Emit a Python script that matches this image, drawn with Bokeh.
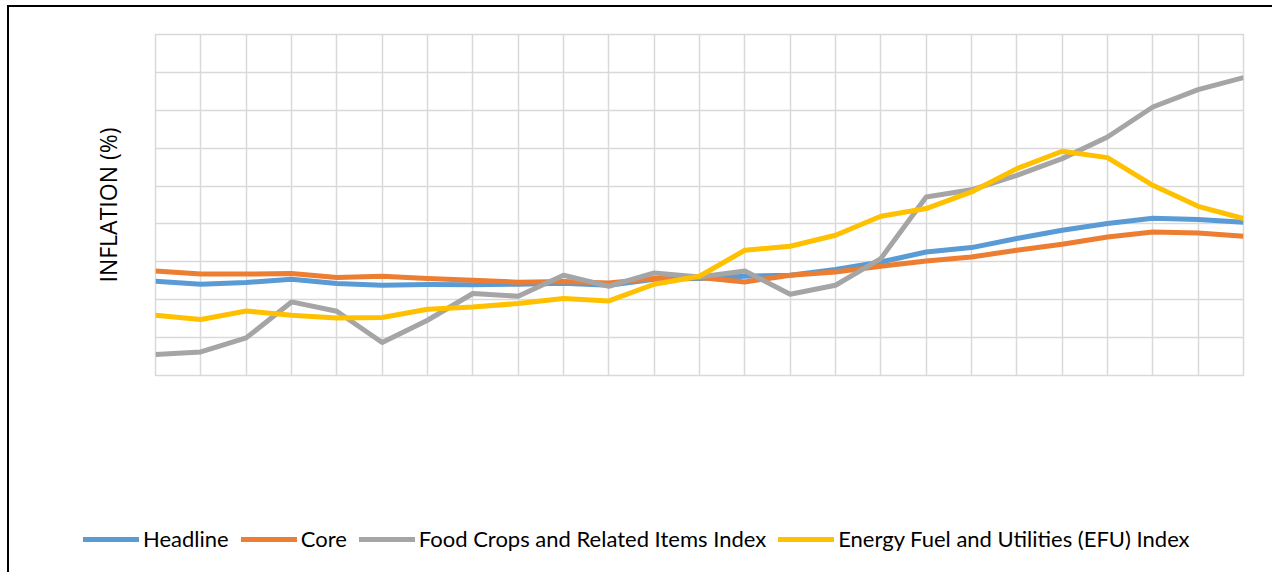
from bokeh.plotting import figure
from bokeh.models import Range1d, FixedTicker, Legend, LegendItem, ColumnDataSource
from bokeh.embed import file_html
from bokeh.resources import INLINE

# ---- data (25 periods) ----
periods = list(range(25))
headline = [12.44, 12.04, 12.27, 12.70, 12.13, 11.91, 12.00, 11.98, 12.05, 12.17, 11.90, 12.70,
            12.80, 13.10, 13.23, 13.98, 14.98, 16.30, 16.88, 18.07, 19.16, 20.05, 20.75, 20.58, 20.22]
core = [13.80, 13.40, 13.40, 13.45, 12.93, 13.10, 12.80, 12.57, 12.31, 12.40, 12.21, 12.79,
        12.93, 12.35, 13.23, 13.66, 14.42, 15.12, 15.64, 16.53, 17.32, 18.28, 18.94, 18.81, 18.37]
food = [2.77, 3.11, 4.96, 9.71, 8.48, 4.35, 7.29, 10.82, 10.46, 13.23, 11.78, 13.53,
        13.01, 13.80, 10.72, 11.91, 15.43, 23.56, 24.50, 26.42, 28.62, 31.47, 35.43, 37.72, 39.31]
efu = [7.95, 7.39, 8.52, 7.95, 7.60, 7.65, 8.74, 9.05, 9.50, 10.16, 9.84, 12.04,
       13.10, 16.53, 17.05, 18.51, 21.01, 22.03, 24.22, 27.30, 29.59, 28.75, 25.10, 22.33, 20.71]
series_names = ["Headline", "Core", "Food Crops and Related Items Index",
                "Energy Fuel and Utilities (EFU) Index"]
series_colors = ["#5B9BD5", "#ED7D31", "#A5A5A5", "#FFC000"]
y_ticks = [0, 5, 10, 15, 20, 25, 30, 35, 40, 45]

src = ColumnDataSource(dict(x=periods, headline=headline, core=core, food=food, efu=efu))

# ---- main chart ----
p = figure(width=1265, height=473, output_backend="svg", toolbar_location=None,
           x_range=Range1d(0, 24), y_range=Range1d(0, 45),
           min_border_left=146, min_border_right=31, min_border_top=27, min_border_bottom=105)
p.styles = {"border-top": "2px solid black", "border-left": "2px solid black",
            "margin-top": "5px", "margin-left": "7px"}
p.outline_line_color = "#D9D9D9"
p.outline_line_width = 1.5
p.background_fill_color = "white"
p.border_fill_color = "white"

p.xaxis.visible = False
p.xgrid.ticker = FixedTicker(ticks=periods)
p.ygrid.ticker = FixedTicker(ticks=y_ticks)
for g in (p.xgrid[0], p.ygrid[0]):
    g.grid_line_color = "#D9D9D9"
    g.grid_line_width = 1.5

ya = p.yaxis[0]
ya.ticker = FixedTicker(ticks=[])
ya.axis_line_color = None
ya.major_tick_line_color = None
ya.minor_tick_line_color = None
ya.major_tick_out = 0
ya.major_tick_in = 0
ya.major_label_standoff = 0
ya.axis_label = "INFLATION (%)"
ya.axis_label_text_font = "Open Sans"
ya.axis_label_text_font_size = "23px"
ya.axis_label_text_font_style = "normal"
ya.axis_label_text_color = "#000000"
ya.axis_label_standoff = 32

for col, c in zip(["headline", "core", "food", "efu"], series_colors):
    p.line("x", col, source=src, line_color=c, line_width=5, line_join="round")

# ---- legend strip (same styles, legend entries only) ----
lf = figure(width=1265, height=94, output_backend="svg", toolbar_location=None,
            x_axis_location=None, y_axis_location=None,
            x_range=Range1d(0, 1), y_range=Range1d(0, 1),
            min_border=0, min_border_left=0, min_border_right=0, min_border_top=0, min_border_bottom=0)
lf.styles = {"border-left": "2px solid black", "margin-left": "7px"}
lf.grid.visible = False
lf.outline_line_color = None
lf.background_fill_color = "white"
lf.border_fill_color = "white"

nan = float("nan")
items = []
for n, c in zip(series_names, series_colors):
    r = lf.line(x=[nan, nan], y=[nan, nan], line_color=c, line_width=5, line_cap="round")
    items.append(LegendItem(label=n, renderers=[r]))

legend = Legend(items=items, orientation="horizontal", location=(74, 20),
                label_text_font="Lato", label_text_font_size="22px", label_text_color="#000000",
                glyph_width=56, glyph_height=24, label_height=24, label_standoff=4, spacing=12,
                padding=0, margin=0, border_line_color=None, background_fill_alpha=0)
lf.add_layout(legend, "center")

open("out.html", "w").write(file_html([p, lf], INLINE))
